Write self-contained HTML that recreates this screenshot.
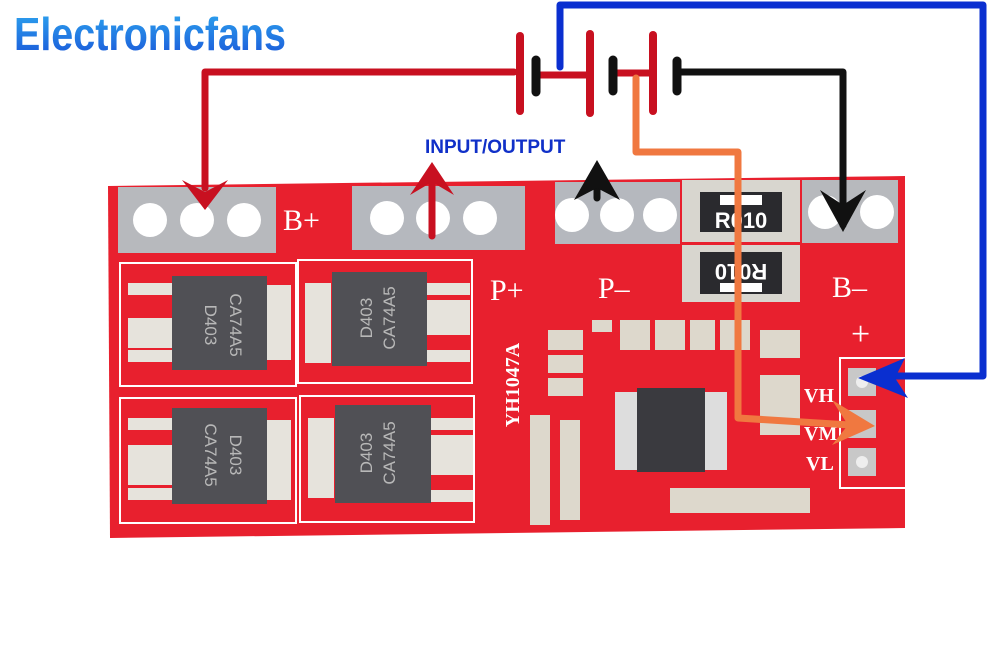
<!DOCTYPE html>
<html><head><meta charset="utf-8"><style>
html,body{margin:0;padding:0;background:#fff;}
svg{display:block}
</style></head><body>
<svg width="1000" height="666" viewBox="0 0 1000 666" xmlns="http://www.w3.org/2000/svg">
<defs>
<linearGradient id="tg" x1="0" y1="0" x2="0" y2="1">
<stop offset="0" stop-color="#2ea8f0"/><stop offset="1" stop-color="#1a55d8"/>
</linearGradient>
</defs>
<rect width="1000" height="666" fill="#fff"/>
<text x="14" y="50" font-family="Liberation Sans Narrow, Liberation Sans, sans-serif" font-weight="bold" font-size="46" fill="url(#tg)" textLength="272" lengthAdjust="spacingAndGlyphs">Electronicfans</text>

<!-- board -->
<polygon points="108,186 905,176 905,528 110,538" fill="#e8202e"/>
<!-- pad strips -->
<rect x="118" y="187" width="158" height="66" fill="#b7b9bd"/>
<rect x="352" y="186" width="173" height="64" fill="#b5b8be"/>
<rect x="555" y="182" width="125" height="62" fill="#b5b8be"/>
<rect x="802" y="180" width="96" height="63" fill="#b7b9bd"/>
<g fill="#fff">
<circle cx="150" cy="220" r="17"/><circle cx="197" cy="220" r="17"/><circle cx="244" cy="220" r="17"/>
<circle cx="387" cy="218" r="17"/><circle cx="433" cy="218" r="17"/><circle cx="480" cy="218" r="17"/>
<circle cx="572" cy="215" r="17"/><circle cx="617" cy="215" r="17"/><circle cx="660" cy="215" r="17"/>
<circle cx="825" cy="212" r="17"/><circle cx="877" cy="212" r="17"/>
</g>
<!-- resistors -->
<rect x="682" y="180" width="118" height="62" fill="#d8d6cf"/>
<rect x="700" y="192" width="82" height="40" fill="#2a2a2e"/>
<rect x="720" y="195" width="42" height="10" fill="#fff"/>
<text x="741" y="228" font-family="Liberation Sans, sans-serif" font-weight="bold" font-size="22" fill="#fff" text-anchor="middle">R010</text>
<rect x="682" y="245" width="118" height="57" fill="#d8d6cf"/>
<rect x="700" y="252" width="82" height="42" fill="#2a2a2e"/>
<rect x="720" y="283" width="42" height="9" fill="#fff"/>
<text x="741" y="280" font-family="Liberation Sans, sans-serif" font-weight="bold" font-size="22" fill="#fff" text-anchor="middle" transform="rotate(180 741 272)">R010</text>
<!-- labels -->
<g font-family="Liberation Serif, serif" font-size="30" fill="#fff">
<text x="283" y="230">B+</text>
<text x="490" y="300">P+</text>
<text x="598" y="298">P–</text>
<text x="832" y="297">B–</text>
<text x="851" y="345" font-size="34">+</text>
<text x="804" y="402" font-size="20" font-weight="bold">VH</text>
<text x="804" y="440" font-size="20" font-weight="bold">VM</text>
<text x="806" y="470" font-size="20" font-weight="bold">VL</text>
</g>
<text x="512" y="392" font-family="Liberation Serif, serif" font-size="20" font-weight="bold" fill="#fff" text-anchor="middle" transform="rotate(-90 512 385)">YH1047A</text>
<!-- MOSFET outlines -->
<g fill="none" stroke="#fff" stroke-width="2">
<rect x="120" y="263" width="176" height="123"/>
<rect x="298" y="260" width="174" height="123"/>
<rect x="120" y="398" width="176" height="125"/>
<rect x="300" y="396" width="174" height="126"/>
<rect x="840" y="358" width="72" height="130"/>
</g>
<g fill="#e6e3dc">
<rect x="128" y="283" width="46" height="12"/><rect x="128" y="318" width="46" height="30"/><rect x="128" y="350" width="46" height="12"/>
<rect x="128" y="418" width="46" height="12"/><rect x="128" y="445" width="46" height="40"/><rect x="128" y="488" width="46" height="12"/>
<rect x="425" y="283" width="45" height="12"/><rect x="425" y="300" width="45" height="35"/><rect x="425" y="350" width="45" height="12"/>
<rect x="428" y="418" width="45" height="12"/><rect x="428" y="435" width="45" height="40"/><rect x="428" y="490" width="45" height="12"/>
<rect x="265" y="285" width="26" height="75"/><rect x="305" y="283" width="26" height="80"/>
<rect x="265" y="420" width="26" height="80"/><rect x="308" y="418" width="26" height="80"/>
</g>
<g fill="#505055">
<rect x="172" y="276" width="95" height="94"/>
<rect x="332" y="272" width="95" height="94"/>
<rect x="172" y="408" width="95" height="96"/>
<rect x="335" y="405" width="96" height="98"/>
</g>
<g font-family="Liberation Sans, sans-serif" font-size="17" fill="#b8b8b8">
<text x="205" y="325" transform="rotate(90 205 325)" text-anchor="middle">D403</text>
<text x="230" y="325" transform="rotate(90 230 325)" text-anchor="middle">CA74A5</text>
<text x="372" y="318" transform="rotate(-90 372 318)" text-anchor="middle">D403</text>
<text x="395" y="318" transform="rotate(-90 395 318)" text-anchor="middle">CA74A5</text>
<text x="205" y="455" transform="rotate(90 205 455)" text-anchor="middle">CA74A5</text>
<text x="230" y="455" transform="rotate(90 230 455)" text-anchor="middle">D403</text>
<text x="372" y="453" transform="rotate(-90 372 453)" text-anchor="middle">D403</text>
<text x="395" y="453" transform="rotate(-90 395 453)" text-anchor="middle">CA74A5</text>
</g>
<!-- chip -->
<g fill="#ddd">
<rect x="615" y="392" width="22" height="78"/><rect x="705" y="392" width="22" height="78"/>
</g>
<rect x="637" y="388" width="68" height="84" fill="#3a3a3f"/>
<!-- small parts -->
<g fill="#ddd8cc">
<rect x="592" y="320" width="20" height="12"/><rect x="620" y="320" width="30" height="30"/><rect x="655" y="320" width="30" height="30"/>
<rect x="690" y="320" width="25" height="30"/><rect x="720" y="320" width="30" height="30"/>
<rect x="548" y="330" width="35" height="20"/><rect x="548" y="355" width="35" height="18"/><rect x="548" y="378" width="35" height="18"/>
<rect x="760" y="330" width="40" height="28"/><rect x="760" y="375" width="40" height="60"/>
<rect x="670" y="488" width="140" height="25"/>
<rect x="530" y="415" width="20" height="110"/><rect x="560" y="420" width="20" height="100"/>
</g>
<g fill="#c8c8c8"><rect x="848" y="368" width="28" height="28"/><rect x="848" y="410" width="28" height="28"/><rect x="848" y="448" width="28" height="28"/></g>
<g fill="#eee"><circle cx="862" cy="382" r="6"/><circle cx="862" cy="462" r="6"/></g>

<!-- wires -->
<g fill="none" stroke-linejoin="round" stroke-linecap="round">
<polyline points="514,72 205,72 205,188" stroke="#c81020" stroke-width="7"/>
<polyline points="536,75 590,75" stroke="#c81020" stroke-width="7"/>
<polyline points="613,73 653,73" stroke="#c81020" stroke-width="7"/>
<polyline points="560,67 560,5 983,5 983,376 895,376" stroke="#0a2fd0" stroke-width="7"/>
<polyline points="680,72 843,72 843,225" stroke="#111" stroke-width="7"/>
<polyline points="636,78 636,152 738,152 738,418 850,425" stroke="#f07840" stroke-width="7"/>
<line x1="432" y1="236" x2="432" y2="172" stroke="#c81020" stroke-width="7"/>
<line x1="597" y1="198" x2="597" y2="170" stroke="#111" stroke-width="7"/>
</g>
<!-- battery plates -->
<g stroke-linecap="round">
<line x1="520" y1="36" x2="520" y2="111" stroke="#c81020" stroke-width="8"/>
<line x1="536" y1="60" x2="536" y2="92" stroke="#111" stroke-width="9"/>
<line x1="590" y1="34" x2="590" y2="113" stroke="#c81020" stroke-width="8"/>
<line x1="613" y1="60" x2="613" y2="91" stroke="#111" stroke-width="9"/>
<line x1="653" y1="35" x2="653" y2="111" stroke="#c81020" stroke-width="8"/>
<line x1="677" y1="61" x2="677" y2="91" stroke="#111" stroke-width="9"/>
</g>
<!-- arrowheads -->
<polygon points="182,180 205,210 228,180 205,192" fill="#c81020"/>
<polygon points="410,195 432,162 454,195 432,182" fill="#c81020"/>
<polygon points="574,200 597,160 620,200 597,188" fill="#111"/>
<polygon points="820,190 843,232 866,190 843,205" fill="#111"/>
<polygon points="905,358 858,378 908,398 895,378" fill="#0a2fd0"/>
<polygon points="832,400 875,426 832,445 848,425" fill="#f07840"/>
<text x="425" y="153" font-family="Liberation Sans, sans-serif" font-weight="bold" font-size="19" fill="#1030c8">INPUT/OUTPUT</text>
</svg>
</body></html>
